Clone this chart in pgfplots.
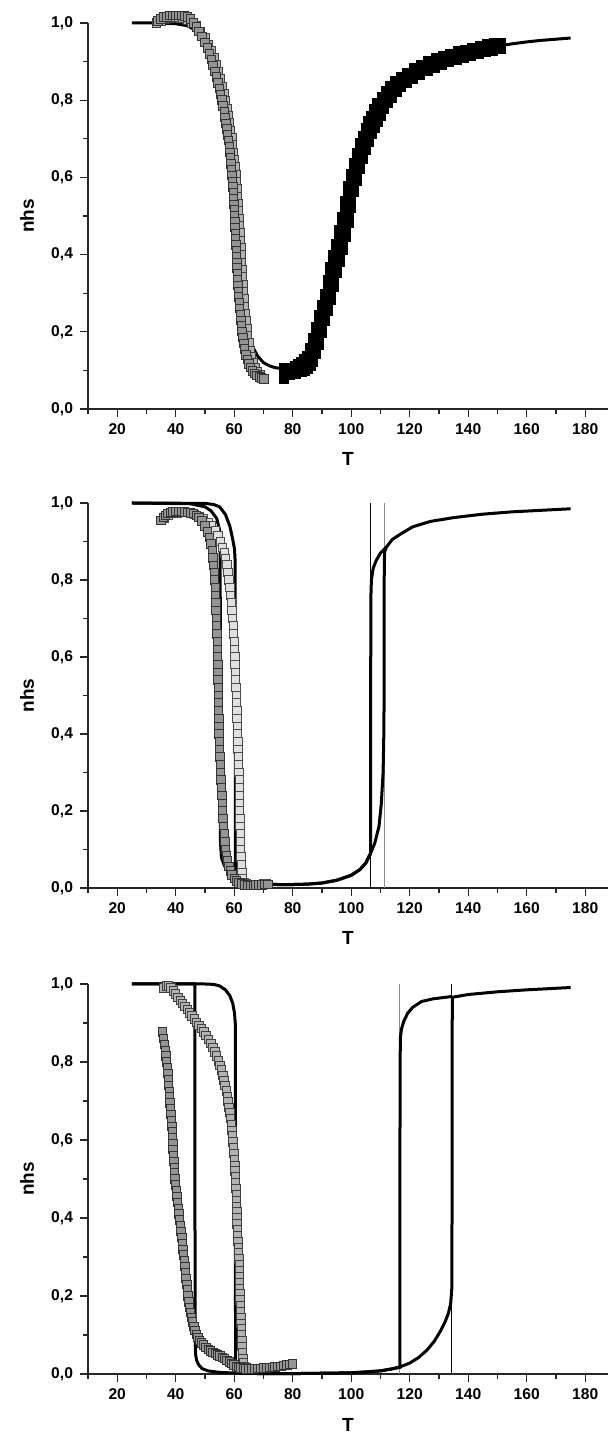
\documentclass[border=0pt]{standalone}
\usepackage{fontspec}
\setmainfont{Liberation Sans}
\usepackage{pgfplots}
\pgfplotsset{compat=1.18}
\pgfplotsset{
  panel/.style={
    scale only axis, width=260pt,
    xmin=10, xmax=187.8, ymin=0, ymax=1,
    axis lines=left, axis line style={-, line width=0.6pt, black!85},
    clip=false,
    xtick={20,40,...,180}, minor xtick={10,30,...,170},
    ytick={0,0.2,0.4,0.6,0.8,1.0}, minor ytick={0.1,0.3,0.5,0.7,0.9},
    tick align=outside, major tick length=4pt, minor tick length=2.5pt,
    tick style={black!85, line width=0.6pt},
    tick label style={font=\bfseries\fontsize{7.8}{9}\selectfont},
    /pgf/number format/assume math mode=true,
    yticklabel style={/pgf/number format/.cd, fixed, fixed zerofill, precision=1, use comma},
    xticklabel style={/pgf/number format/.cd, fixed, precision=0},
    xlabel={T}, ylabel={nhs},
    label style={font=\bfseries\fontsize{9.5}{11}\selectfont},
    ylabel style={at={(axis description cs:-0.117,0.5)}, anchor=center},
    xlabel style={at={(axis description cs:0.5,-0.13)}, anchor=center},
    anchor=south west,
  },
  curve/.style={black, line width=1.5pt, no markers},
  sqA/.style={only marks, mark=square*, mark size=2.1pt, mark options={fill=black!42, draw=black!80, line width=0.5pt}},
  sqB/.style={only marks, mark=square*, mark size=2.1pt, mark options={fill=black!30, draw=black!75, line width=0.5pt}},
  sqL/.style={only marks, mark=square*, mark size=2.1pt, mark options={fill=black!12, draw=black!70, line width=0.5pt}},
  band/.style={black, line width=4.2pt, mark=square*, mark size=2.0pt},
  vthin/.style={black, line width=0.5pt, no markers},
  vgray/.style={black!45, line width=0.7pt, no markers},
}
\begin{document}
\begin{tikzpicture}
\useasboundingbox (0,0) rectangle (304pt,717pt);

% ---------- panel 1 ----------
\begin{axis}[panel, height=193pt, at={(44pt,512.5pt)}]
\addplot[sqB] coordinates {
(33.5,1.0) (35,1.005) (36.5,1.01) (38,1.012) (39.5,1.015) (41,1.015) (42.5,1.012) (44,1.008)
(45.5,1.0) (47,0.992) (48.5,0.978) (50,0.962) (51.2,0.945) (52.2,0.928) (53.1,0.91) (53.9,0.892)
(54.7,0.874) (55.4,0.855) (56.0,0.836) (56.6,0.817) (57.1,0.798) (57.6,0.779) (58.0,0.76) (58.4,0.741)
(58.8,0.722) (59.2,0.703) (59.5,0.684) (59.8,0.665) (60.1,0.646) (60.35,0.627) (60.6,0.608) (60.8,0.589)
(61.0,0.57) (61.2,0.551) (61.35,0.532) (61.5,0.513) (61.65,0.494) (61.8,0.475) (61.95,0.456) (62.1,0.437)
(62.25,0.418) (62.4,0.399) (62.55,0.38) (62.7,0.361) (62.85,0.342) (63.0,0.323) (63.2,0.304) (63.4,0.285)
(63.6,0.266) (63.8,0.247) (64.0,0.228) (64.3,0.209) (64.6,0.19) (65.0,0.171) (65.5,0.152) (66.0,0.135)
(66.6,0.12) (67.3,0.107) (68.0,0.097) (68.8,0.089)
};
\addplot[sqA] coordinates {
(34.0,1.005) (35.0,1.01) (36.0,1.015) (37.0,1.015) (38.0,1.02) (39.0,1.02) (40.0,1.02) (41.0,1.02)
(42.0,1.02) (43.0,1.018) (44.0,1.015) (45.0,1.01) (46.0,1.0) (47.0,0.99) (48.0,0.978) (49.0,0.965)
(50.0,0.95) (50.8,0.935) (51.5,0.92) (52.2,0.905) (52.8,0.89) (53.4,0.875) (54.0,0.86) (54.5,0.845)
(55.0,0.83) (55.4,0.815) (55.8,0.80) (56.2,0.785) (56.6,0.77) (56.9,0.755) (57.2,0.74) (57.5,0.725)
(57.8,0.71) (58.1,0.695) (58.3,0.68) (58.5,0.665) (58.7,0.65) (58.9,0.635) (59.1,0.62) (59.3,0.605)
(59.4,0.59) (59.6,0.575) (59.7,0.56) (59.8,0.545) (59.9,0.53) (60.0,0.515) (60.1,0.50) (60.2,0.485)
(60.3,0.47) (60.4,0.455) (60.5,0.44) (60.6,0.425) (60.7,0.41) (60.8,0.395) (60.9,0.38) (61.0,0.365)
(61.1,0.35) (61.2,0.335) (61.3,0.32) (61.4,0.305) (61.5,0.29) (61.7,0.275) (61.9,0.26) (62.1,0.245)
(62.3,0.23) (62.5,0.215) (62.7,0.20) (63.0,0.185) (63.3,0.17) (63.6,0.155) (64.0,0.14) (64.5,0.128)
(65.0,0.117) (65.6,0.107) (66.3,0.098) (67.0,0.092) (67.8,0.087) (68.6,0.083) (69.4,0.08) (70.2,0.078)
};
\addplot[curve] coordinates {
(25,1.0) (30,1.0) (35,1.0) (40,0.998) (44,0.993) (47,0.98) (50,0.955) (52,0.925) (54,0.875)
(56,0.80) (57,0.75) (58,0.69) (59,0.625) (60,0.55) (61,0.46) (62,0.37) (63,0.29) (64,0.23)
(65,0.19) (66,0.165) (68,0.137) (70,0.12) (72,0.112) (74,0.107) (76,0.105) (78,0.106) (80,0.11)
(82,0.118) (84,0.13) (86,0.148) (88,0.175) (90,0.215) (92,0.265) (94,0.33) (96,0.40) (98,0.47)
(100,0.54) (102,0.605) (104,0.66) (106,0.71) (108,0.745) (110,0.775) (114,0.82) (118,0.85)
(122,0.872) (126,0.888) (130,0.90) (135,0.913) (140,0.923) (145,0.932) (150,0.94) (155,0.946)
(160,0.951) (165,0.955) (170,0.958) (175,0.961)
};
\addplot[only marks, mark=square*, mark size=2.2pt, black] coordinates {(76.9,0.077)};
\addplot[band] coordinates {
(78,0.097) (80,0.099) (82,0.103) (83,0.107) (84,0.113) (85,0.12) (86,0.13) (87,0.15) (88,0.175)
(89,0.205) (90,0.235) (91,0.262) (92,0.29) (93,0.325) (94,0.36) (95,0.39) (96,0.42) (97,0.455)
(98,0.49) (99,0.53) (100,0.57) (101,0.60) (102,0.63) (103,0.655) (104,0.68) (105,0.70) (106,0.72)
(107,0.737) (108,0.752) (109,0.768) (110,0.785) (111.5,0.80) (113,0.815) (114.5,0.829) (116,0.842)
(118,0.853) (120,0.863) (122.5,0.874) (125,0.884) (127.5,0.892) (130,0.90) (132.5,0.906) (135,0.912)
(137.5,0.918) (140,0.923) (142.5,0.928) (145,0.932) (147.5,0.936) (150,0.94)
};
\end{axis}

% ---------- panel 2 ----------
\begin{axis}[panel, height=192.5pt, at={(44pt,273pt)}]
\addplot[sqL] coordinates {
(36,0.96) (37.5,0.968) (39,0.972) (40.5,0.974) (42,0.975) (43.5,0.975) (45,0.973) (46.5,0.97)
(48,0.965) (49.5,0.958) (51,0.95) (52.3,0.94) (53.5,0.928) (54.5,0.915) (55.3,0.9) (56,0.885)
(56.6,0.87) (57.1,0.855) (57.5,0.84) (57.9,0.82) (58.2,0.80) (58.5,0.78) (58.8,0.76) (59.1,0.74)
(59.3,0.72) (59.5,0.70) (59.7,0.68) (59.85,0.66) (60.0,0.64) (60.1,0.62) (60.2,0.60) (60.3,0.58)
(60.4,0.56) (60.5,0.54) (60.6,0.52) (60.7,0.50) (60.8,0.48) (60.9,0.46) (61.0,0.44) (61.1,0.42)
(61.2,0.40) (61.3,0.38) (61.35,0.36) (61.45,0.34) (61.55,0.32) (61.6,0.30) (61.7,0.28) (61.75,0.26)
(61.8,0.24) (61.85,0.22) (61.9,0.20) (61.95,0.18) (62.0,0.16) (62.05,0.14) (62.1,0.12) (62.2,0.10)
(62.3,0.08) (62.4,0.06) (62.6,0.04) (62.9,0.025) (63.3,0.015) (64.0,0.01) (65.0,0.008) (66.0,0.008)
(67.0,0.008) (68.0,0.009) (69.0,0.009) (70.0,0.01) (71.0,0.01)
};
\addplot[sqA] coordinates {
(35.0,0.955) (35.8,0.962) (36.6,0.968) (37.4,0.972) (38.2,0.975) (39.0,0.977) (40,0.978) (41,0.978)
(42,0.978) (43,0.977) (44,0.976) (45,0.974) (46,0.972) (47,0.968) (48,0.962) (49,0.953) (50,0.94)
(50.8,0.925) (51.5,0.91) (52.1,0.893) (52.5,0.875) (52.8,0.857) (53.0,0.838) (53.2,0.82) (53.35,0.80)
(53.5,0.78) (53.6,0.76) (53.7,0.74) (53.8,0.72) (53.9,0.70) (54.0,0.68) (54.1,0.66) (54.2,0.64)
(54.3,0.62) (54.35,0.60) (54.4,0.58) (54.45,0.56) (54.5,0.54) (54.55,0.52) (54.6,0.50) (54.65,0.48)
(54.7,0.46) (54.75,0.44) (54.8,0.42) (54.85,0.40) (54.95,0.38) (55.05,0.36) (55.15,0.34) (55.25,0.32)
(55.35,0.30) (55.45,0.28) (55.6,0.26) (55.75,0.24) (55.9,0.22) (56.05,0.20) (56.2,0.18) (56.4,0.16)
(56.6,0.14) (56.85,0.12) (57.1,0.10) (57.4,0.085) (57.8,0.07) (58.2,0.056) (58.7,0.044) (59.3,0.034)
(60.0,0.025) (60.8,0.018) (61.6,0.013) (62.5,0.01) (63.5,0.008) (64.5,0.007) (65.5,0.007) (66.5,0.007)
(67.5,0.008) (68.5,0.008) (69.5,0.008) (70.5,0.009) (71.5,0.009)
};
\addplot[vthin] coordinates {(106.6,0) (106.6,1)};
\addplot[vgray] coordinates {(111.4,0) (111.4,1)};
% heating branch
\addplot[curve] coordinates {
(25,1.0) (50,0.999) (53,0.996) (55,0.99) (57,0.97) (58.5,0.94) (59.5,0.905) (60.1,0.88) (60.3,0.85)
(60.4,0.03) (61,0.02) (62,0.016) (65,0.012) (70,0.01) (75,0.009) (80,0.009) (85,0.01) (90,0.013)
(95,0.02) (100,0.033) (103,0.048) (105,0.065) (106.6,0.09) (108,0.115) (109.5,0.16) (110.3,0.22)
(110.9,0.3) (111.15,0.4) (111.25,0.5) (111.3,0.86) (111.5,0.875) (112,0.885) (114,0.905) (117,0.92)
(121,0.938) (127,0.952) (135,0.962) (145,0.971) (155,0.977) (165,0.981) (175,0.985)
};
% cooling branch
\addplot[curve] coordinates {
(112,0.885) (110,0.87) (108.5,0.85) (107.5,0.83) (106.9,0.80) (106.7,0.75) (106.6,0.09)
(105,0.065) (103,0.048) (100,0.033) (95,0.02) (90,0.013) (85,0.01) (80,0.009) (75,0.009) (70,0.01)
(65,0.013) (62,0.02) (60,0.027) (58,0.04) (56.5,0.06) (55.6,0.08) (55.3,0.12) (55.2,0.9)
(55.0,0.93) (54,0.96) (52,0.98) (50,0.99) (45,0.998) (25,1.0)
};
\end{axis}

% ---------- panel 3 ----------
\begin{axis}[panel, height=195pt, at={(44pt,30pt)}]
\addplot[sqB] coordinates {
(36.0,0.99) (36.8,0.995) (37.6,0.995) (38.4,0.99) (39.2,0.982) (40.0,0.974) (40.8,0.966) (41.6,0.958)
(42.4,0.95) (43.2,0.942) (44.0,0.934) (44.8,0.926) (45.6,0.918) (46.4,0.91) (47.2,0.902) (48.0,0.894)
(48.8,0.886) (49.6,0.877) (50.4,0.868) (51.2,0.858) (52.0,0.848) (52.7,0.837) (53.4,0.826) (54.0,0.815)
(54.6,0.803) (55.1,0.791) (55.6,0.779) (56.1,0.766) (56.5,0.753) (56.9,0.74) (57.3,0.726) (57.6,0.712)
(57.9,0.698) (58.2,0.684) (58.5,0.67) (58.75,0.655) (59.0,0.64) (59.2,0.625) (59.4,0.61) (59.6,0.595)
(59.75,0.58) (59.9,0.565) (60.05,0.55) (60.2,0.535) (60.3,0.52) (60.4,0.505) (60.5,0.49) (60.6,0.475)
(60.7,0.46) (60.8,0.445) (60.85,0.43) (60.9,0.415) (60.95,0.40) (61.0,0.385) (61.1,0.37) (61.2,0.355)
(61.3,0.34) (61.4,0.325) (61.5,0.31) (61.6,0.295) (61.7,0.28) (61.75,0.265) (61.8,0.25) (61.85,0.235)
(61.9,0.22) (61.95,0.205) (62.0,0.19) (62.1,0.175) (62.2,0.16) (62.3,0.145) (62.35,0.13) (62.4,0.115)
(62.5,0.10) (62.6,0.085) (62.7,0.07) (62.85,0.055) (63.0,0.04) (63.2,0.028) (63.5,0.02) (64.0,0.015)
(65.0,0.013)
};
\addplot[sqA] coordinates {
(35.5,0.877) (35.8,0.86) (36.1,0.845) (36.4,0.83) (36.65,0.815) (36.9,0.80) (37.1,0.785) (37.3,0.77)
(37.45,0.755) (37.6,0.74) (37.8,0.725) (37.95,0.71) (38.1,0.695) (38.25,0.68) (38.4,0.665) (38.55,0.65)
(38.7,0.635) (38.8,0.62) (38.9,0.605) (39.0,0.59) (39.1,0.575) (39.2,0.56) (39.35,0.545) (39.5,0.53)
(39.65,0.515) (39.8,0.50) (40.0,0.485) (40.2,0.47) (40.4,0.455) (40.6,0.44) (40.85,0.425) (41.1,0.41)
(41.35,0.395) (41.6,0.38) (41.85,0.365) (42.1,0.35) (42.3,0.335) (42.5,0.32) (42.7,0.305) (42.9,0.29)
(43.1,0.275) (43.3,0.26) (43.55,0.245) (43.8,0.23) (44.0,0.215) (44.25,0.20) (44.5,0.185) (44.8,0.17)
(45.1,0.157) (45.4,0.145) (45.8,0.133) (46.2,0.122) (46.6,0.112) (47.1,0.102) (47.6,0.094) (48.2,0.086)
(48.8,0.08) (49.5,0.074) (50.3,0.068) (51.1,0.063) (51.9,0.059) (52.7,0.055) (53.5,0.052) (54.3,0.049)
(55.1,0.046) (55.9,0.043) (56.7,0.039) (57.5,0.035) (58.3,0.031) (59.1,0.027) (59.9,0.023) (60.7,0.02)
(61.5,0.017) (62.3,0.015) (63.1,0.014) (64,0.013) (65,0.013) (66,0.013) (67,0.013) (68,0.014)
(69,0.014) (70,0.015) (71,0.015) (72,0.016) (73,0.017) (74,0.018) (75,0.019) (76,0.02) (77,0.022)
(78,0.023) (79,0.025) (80,0.026)
};
\addplot[vgray] coordinates {(116.6,0) (116.6,1)};
\addplot[vthin] coordinates {(134.4,0) (134.4,1)};
% heating branch
\addplot[curve] coordinates {
(25,1.0) (50,1.0) (53,0.999) (55,0.995) (57,0.985) (58.5,0.97) (59.5,0.95) (60.1,0.925) (60.35,0.9)
(60.45,0.003) (62,0.002) (70,0.001) (80,0.001) (90,0.002) (100,0.003) (105,0.005) (110,0.008)
(114,0.013) (116.6,0.018) (120,0.028) (123,0.042) (126,0.062) (128.5,0.085) (130.5,0.11) (132,0.132)
(133.2,0.155) (134,0.18) (134.4,0.22) (134.5,0.5) (134.55,0.966) (140,0.973) (150,0.98) (160,0.985)
(170,0.989) (175,0.991)
};
% cooling branch
\addplot[curve] coordinates {
(134.5,0.968) (128,0.962) (124,0.955) (121,0.94) (119.3,0.925) (118,0.905) (117.2,0.885) (116.85,0.865)
(116.7,0.8) (116.6,0.017) (110,0.008) (100,0.003) (90,0.002) (80,0.001) (70,0.001) (62,0.002)
(55,0.004) (51,0.008) (49,0.014) (47.8,0.024) (47.1,0.036) (46.8,0.05) (46.6,0.1) (46.55,1.0) (25,1.0)
};
\end{axis}
\end{tikzpicture}
\end{document}
